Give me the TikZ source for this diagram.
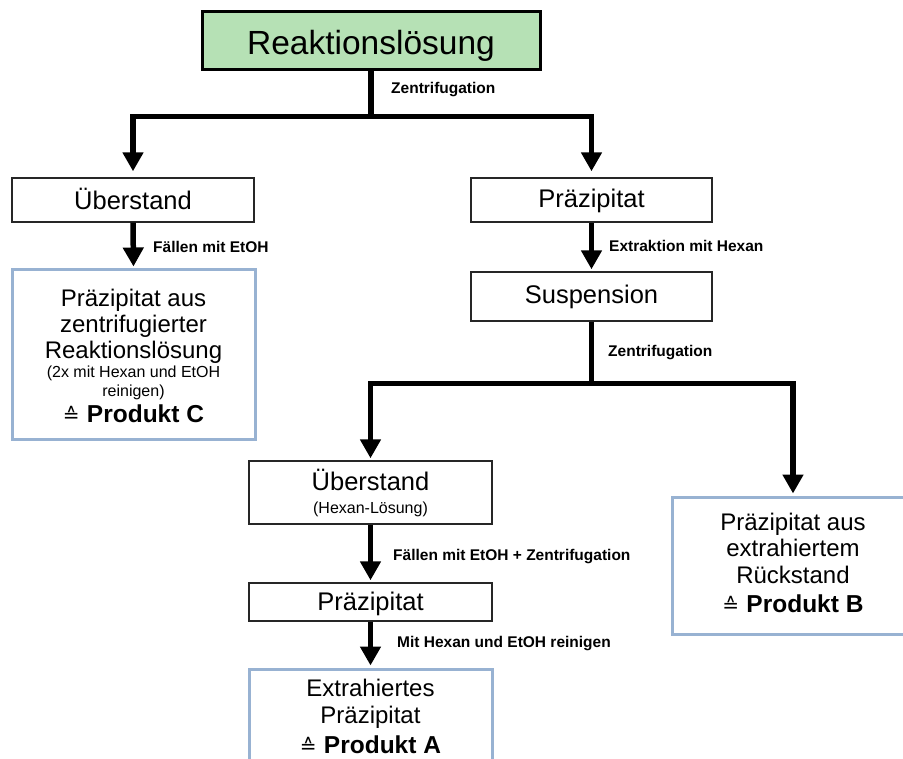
\documentclass[tikz,border=0pt]{standalone}
\usepackage{fontspec}
\setmainfont{Liberation Sans}
\newfontfamily\dv{DejaVu Sans}
\usetikzlibrary{arrows.meta}
\definecolor{topgreen}{RGB}{182,225,181}
\definecolor{prodblue}{RGB}{152,178,210}
\newcommand{\fs}[1]{\fontsize{#1}{#1}\selectfont}
\tikzset{
  plainbox/.style={draw=black!85, line width=1.4pt, inner sep=0pt},
  topbox/.style={draw=black, fill=topgreen, line width=3pt, inner sep=0pt},
  prodbox/.style={draw=prodblue, line width=3pt, inner sep=0pt},
  bigtxt/.style={anchor=base, inner sep=0pt, font=\fs{25.5}},
  midtxt/.style={anchor=base, inner sep=0pt, font=\fs{24}},
  smalltxt/.style={anchor=base, inner sep=0pt, font=\fs{16}},
  lbl/.style={anchor=base west, inner sep=0pt, font=\bfseries\fs{15.5}},
  arr/.style={line width=5.5pt, -{Triangle[width=20pt,length=19pt]}, shorten >=2pt},
}
\newcommand{\corr}{{\dv\fs{20}≙}\hspace{0.3em}}
\begin{document}
\begin{tikzpicture}[x=1pt,y=-1pt]
\useasboundingbox (0,0) rectangle (903,759);
\clip (0,0) rectangle (903,759);
% boxes
\node[topbox, minimum width=338, minimum height=58] (top) at (371,41) {};
\node[plainbox, minimum width=242, minimum height=44] (ub1) at (133,200) {};
\node[plainbox, minimum width=241, minimum height=44] (pr1) at (591.5,200) {};
\node[prodbox, minimum width=243, minimum height=170] (prodC) at (133.5,355) {};
\node[plainbox, minimum width=241, minimum height=49] (susp) at (591.5,296.5) {};
\node[plainbox, minimum width=243, minimum height=63] (ub2) at (370.5,492.5) {};
\node[plainbox, minimum width=243, minimum height=38] (pr2) at (370.5,602) {};
\node[prodbox, minimum width=243, minimum height=120] (prodA) at (370.5,729) {};
\node[prodbox, minimum width=242, minimum height=137] (prodB) at (793,565.5) {};
% texts
\node[anchor=base, inner sep=0pt, font=\fs{33.5}] (tTop) at (371,55) {Reaktionslösung};
\node[bigtxt] (tUb1) at (133,210) {Überstand};
\node[bigtxt] (tPr1) at (591.5,208) {Präzipitat};
\node[bigtxt] (tSusp) at (591.5,304) {Suspension};
\node[bigtxt] (tUb2) at (370.5,490) {Überstand};
\node[smalltxt] (tUb2b) at (370.5,513) {(Hexan-Lösung)};
\node[bigtxt] (tPr2) at (370.5,610) {Präzipitat};
\node[midtxt] (tC1) at (133.5,307) {Präzipitat aus};
\node[midtxt] (tC2) at (133.5,333) {zentrifugierter};
\node[midtxt] (tC3) at (133.5,359) {Reaktionslösung};
\node[smalltxt] (tC4) at (133.5,378) {(2x mit Hexan und EtOH};
\node[smalltxt] (tC5) at (133.5,397) {reinigen)};
\node[midtxt] (tC6) at (133.5,423) {\corr\bfseries\fs{24.5}Produkt C};
\node[midtxt] (tB1) at (793,530) {Präzipitat aus};
\node[midtxt] (tB2) at (793,556) {extrahiertem};
\node[midtxt] (tB3) at (793,583) {Rückstand};
\node[midtxt] (tB4) at (793,612) {\corr\bfseries\fs{24.5}Produkt B};
\node[midtxt] (tA1) at (370.5,696) {Extrahiertes};
\node[midtxt] (tA2) at (370.5,723) {Präzipitat};
\node[midtxt] (tA3) at (370.5,753) {\corr\bfseries\fs{24.5}Produkt A};
% connectors
\draw[arr, shorten >=6pt] (top.south) -- ++(0,45) -| (ub1.north);
\draw[arr, shorten >=6pt] (top.south) -- ++(0,45) -| (pr1.north);
\draw[arr] (ub1.south) -- (prodC.north);
\draw[arr] (pr1.south) -- (susp.north);
\draw[arr] (susp.south) -- ++(0,62) -| (ub2.north);
\draw[arr] (susp.south) -- ++(0,62) -| (prodB.north);
\draw[arr] (ub2.south) -- (pr2.north);
\draw[arr] (pr2.south) -- (prodA.north);
% labels
\node[lbl] (l1) at (391,94) {Zentrifugation};
\node[lbl] (l2) at (153,253) {Fällen mit EtOH};
\node[lbl] (l3) at (609,252) {Extraktion mit Hexan};
\node[lbl] (l4) at (608,357) {Zentrifugation};
\node[lbl] (l5) at (393,560) {Fällen mit EtOH + Zentrifugation};
\node[lbl] (l6) at (397,647) {Mit Hexan und EtOH reinigen};
\end{tikzpicture}
\end{document}
